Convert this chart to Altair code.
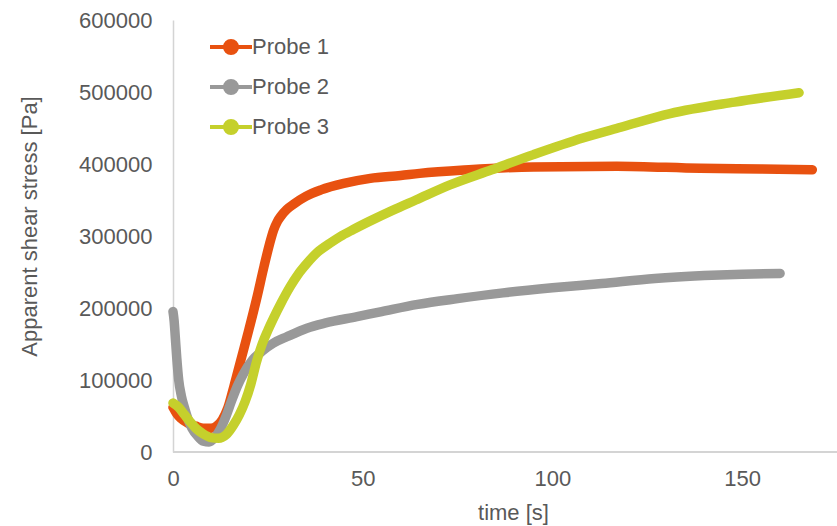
import altair as alt
import pandas as pd

# Rheometer run: apparent shear stress over time for three probes
probe_names = ["Probe 1", "Probe 2", "Probe 3"]
probe_colors = ["#E85110", "#999999", "#C5D02C"]

time_1 = [0, 1, 2, 4, 6, 8, 10, 11.5, 13, 14.5, 16, 18, 20, 22, 24, 25.5, 26.5,
          27.5, 28.5, 30, 32, 35, 39, 45, 52, 60, 65, 78, 95, 117, 139, 155, 168.5]
stress_1 = [62000, 53000, 47000, 40000, 36000, 33000, 33000, 36000, 45000, 62000,
            90000, 130000, 170000, 212000, 258000, 290000, 308000, 320000, 328000,
            337000, 345000, 355000, 364000, 373000, 380000, 384000, 387000, 392000,
            396000, 397000, 394000, 393000, 392000]

time_2 = [0, 0.3, 0.6, 1, 1.5, 2.2, 3, 4, 5, 6.5, 8, 9.5, 11, 12.5, 14, 15.5, 17,
          18.5, 21, 23.5, 26.4, 30, 35.3, 40, 48.5, 55, 64.5, 75, 87, 100, 113, 127,
          140, 150, 160]
stress_2 = [195000, 182000, 160000, 130000, 100000, 78000, 62000, 45000, 33000,
            22000, 15000, 14000, 20000, 32000, 50000, 72000, 92000, 108000, 128000,
            140000, 151000, 160000, 172000, 179000, 188000, 195000, 205000, 213000,
            221000, 228000, 234000, 241000, 245000, 247000, 248000]

time_3 = [0, 1.5, 3, 4.5, 6, 8, 10, 12, 14, 16, 17.5, 19, 20.5, 22, 23.5, 25, 26.5,
          28.5, 30.8, 33, 35.3, 38, 41.4, 44, 47.5, 52, 58, 64, 73, 84, 95, 108, 118,
          131, 148, 165]
stress_3 = [68000, 62000, 52000, 42000, 33000, 25000, 20000, 19000, 24000, 38000,
            52000, 70000, 94000, 125000, 150000, 169000, 186000, 207000, 229000,
            247000, 262000, 277000, 290000, 299000, 309000, 321000, 336000, 350000,
            371000, 392000, 413000, 436000, 451000, 470000, 486000, 499000]

x_ticks = [0, 50, 100, 150]
y_ticks = [0, 100000, 200000, 300000, 400000, 500000, 600000]
baseline = [0]

frames = []
for name, t, s in zip(probe_names, [time_1, time_2, time_3], [stress_1, stress_2, stress_3]):
    frames.append(pd.DataFrame({"probe": name, "time": t, "stress": s}))
df = pd.concat(frames, ignore_index=True)

FONT = "Liberation Sans"
TEXT = "#595959"
AXIS_LINE = "#D4D4D4"

# line with a dot in the middle, drawn as the legend symbol
legend_symbol = ("M-2.1,0L2.1,0M-0.6,0A0.6,0.6,0,1,0,0.6,0"
                 "A0.6,0.6,0,1,0,-0.6,0Z")

legend = alt.Legend(
    title=None, orient="none", legendX=46, legendY=15, padding=0,
    symbolType=legend_symbol, symbolSize=400, symbolStrokeWidth=4,
    labelOffset=9, rowPadding=12,
    labelFont=FONT, labelFontSize=22, labelColor=TEXT,
)
series_scale = alt.Scale(domain=probe_names, range=probe_colors)

x_enc = alt.X("time:Q",
              scale=alt.Scale(domain=[0, 175], nice=False, zero=True),
              axis=alt.Axis(values=x_ticks, title="time [s]", labelPadding=16,
                            labelFlush=False, domain=False,
                            titleX=340, titleY=60, titleBaseline="middle",
                            titleAlign="center"))
y_enc = alt.Y("stress:Q",
              scale=alt.Scale(domain=[0, 600000], nice=False),
              axis=alt.Axis(values=y_ticks, format="d",
                            title="Apparent shear stress [Pa]", labelPadding=21,
                            labelFlush=False, domain=True, domainColor=AXIS_LINE,
                            domainWidth=1.5,
                            titleX=-144, titleY=206, titleAngle=-90,
                            titleBaseline="middle", titleAlign="center"))

# horizontal axis line at zero stress, spanning the whole plot width
base_rule = alt.Chart(pd.DataFrame({"stress": baseline})).mark_rule(
    color=AXIS_LINE, strokeWidth=2
).encode(y=alt.Y("stress:Q"))

lines = alt.Chart(df).mark_line(
    strokeWidth=9.5, strokeCap="round", strokeJoin="round", interpolate="monotone"
).encode(
    x=x_enc, y=y_enc,
    stroke=alt.Stroke("probe:N", scale=series_scale, legend=legend),
)

# empty point layer: only contributes the filled dot to the legend symbols
dots = alt.Chart(df).transform_filter("datum.time < 0").mark_point(
    filled=True, opacity=1
).encode(
    x=x_enc, y=y_enc,
    fill=alt.Fill("probe:N", scale=series_scale, legend=legend),
)

chart = alt.layer(base_rule, lines, dots).properties(
    width=664, height=432,
    autosize=alt.AutoSizeParams(type="none"),
    padding={"left": 173, "top": 20, "right": 0, "bottom": 74},
).configure_axis(
    grid=False, ticks=False,
    labelFont=FONT, labelFontSize=22, labelColor=TEXT,
    titleFont=FONT, titleFontSize=22, titleColor=TEXT, titleFontWeight="normal",
).configure_view(stroke="transparent")

chart.save("out.html", embed_options={"renderer": "svg", "actions": False})
